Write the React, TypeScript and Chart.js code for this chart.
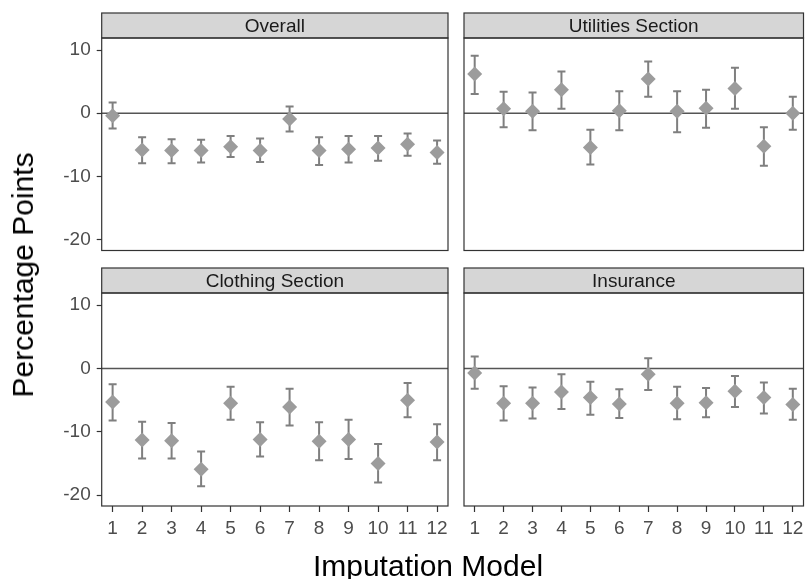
import React, { useEffect, useRef } from 'react';
import { Chart, registerables } from 'chart.js';

Chart.register(...registerables);

const models = [1, 2, 3, 4, 5, 6, 7, 8, 9, 10, 11, 12];
const yTicks = [-20, -10, 0, 10];

const overallEst = [-0.4, -5.8, -5.9, -5.9, -5.3, -5.9, -0.9, -5.9, -5.7, -5.5, -4.9, -6.2];
const overallLo = [-2.4, -7.9, -7.9, -7.8, -6.9, -7.7, -2.9, -8.2, -7.8, -7.5, -6.7, -8.0];
const overallHi = [1.7, -3.8, -4.1, -4.2, -3.6, -4.0, 1.05, -3.8, -3.6, -3.6, -3.2, -4.3];

const utilitiesEst = [6.2, 0.7, 0.3, 3.7, -5.4, 0.4, 5.4, 0.3, 0.8, 3.9, -5.2, 0.0];
const utilitiesLo = [3.05, -2.2, -2.7, 0.7, -8.1, -2.7, 2.6, -3.0, -2.3, 0.7, -8.3, -2.6];
const utilitiesHi = [9.1, 3.4, 3.3, 6.6, -2.6, 3.5, 8.2, 3.5, 3.7, 7.2, -2.2, 2.6];

const clothingEst = [-5.3, -11.3, -11.4, -15.9, -5.5, -11.2, -6.1, -11.5, -11.2, -15.0, -5.0, -11.6];
const clothingLo = [-8.2, -14.2, -14.2, -18.6, -8.1, -13.9, -9.0, -14.5, -14.3, -18.0, -7.7, -14.5];
const clothingHi = [-2.5, -8.4, -8.6, -13.1, -2.9, -8.5, -3.2, -8.5, -8.1, -11.9, -2.3, -8.8];

const insuranceEst = [-0.7, -5.5, -5.5, -3.7, -4.6, -5.6, -0.9, -5.5, -5.4, -3.6, -4.6, -5.7];
const insuranceLo = [-3.2, -8.2, -7.9, -6.4, -7.3, -7.8, -3.4, -8.0, -7.7, -6.1, -7.1, -8.1];
const insuranceHi = [1.9, -2.8, -3.0, -0.9, -2.1, -3.3, 1.6, -2.9, -3.1, -1.2, -2.2, -3.2];

const FONT = '"Liberation Sans", Arial, Helvetica, sans-serif';

type PanelProps = {
  title: string;
  est: number[];
  lo: number[];
  hi: number[];
  showX: boolean;
  showY: boolean;
  left: number;
  top: number;
  width: number;
  height: number;
  padding: { left: number; right: number; top: number; bottom: number };
  yAxisWidth: number;
  xAxisHeight: number;
};

function Panel(p: PanelProps) {
  const ref = useRef<HTMLCanvasElement | null>(null);
  useEffect(() => {
    if (!ref.current) return;
    const stripH = 25;
    const facetPlugin = {
      id: 'facet',
      beforeDatasetsDraw(chart: any) {
        const ctx = chart.ctx;
        const { left, right } = chart.chartArea;
        const ys = chart.scales.y;
        const xs = chart.scales.x;
        ctx.save();
        const y0 = ys.getPixelForValue(0);
        ctx.strokeStyle = '#555555';
        ctx.lineWidth = 1.5;
        ctx.beginPath();
        ctx.moveTo(left, y0);
        ctx.lineTo(right, y0);
        ctx.stroke();
        ctx.strokeStyle = '#7f7f7f';
        ctx.lineWidth = 2;
        const cap = 4;
        models.forEach((m, i) => {
          const x = xs.getPixelForValue(m);
          const yl = ys.getPixelForValue(p.lo[i]);
          const yh = ys.getPixelForValue(p.hi[i]);
          ctx.beginPath();
          ctx.moveTo(x, yl);
          ctx.lineTo(x, yh);
          ctx.moveTo(x - cap, yl);
          ctx.lineTo(x + cap, yl);
          ctx.moveTo(x - cap, yh);
          ctx.lineTo(x + cap, yh);
          ctx.stroke();
        });
        ctx.restore();
      },
      afterDraw(chart: any) {
        const ctx = chart.ctx;
        const { left, right, top, bottom } = chart.chartArea;
        ctx.save();
        ctx.fillStyle = '#d6d6d6';
        ctx.fillRect(left, top - stripH, right - left, stripH);
        ctx.strokeStyle = '#333333';
        ctx.lineWidth = 1.2;
        ctx.strokeRect(left, top - stripH, right - left, stripH);
        ctx.fillStyle = '#1a1a1a';
        ctx.font = '19px ' + FONT;
        ctx.textAlign = 'center';
        ctx.textBaseline = 'middle';
        ctx.fillText(p.title, (left + right) / 2, top - stripH / 2 + 1);
        ctx.strokeStyle = '#333333';
        ctx.lineWidth = 1.2;
        ctx.strokeRect(left, top, right - left, bottom - top);
        ctx.restore();
      },
    };

    const chart = new Chart(ref.current, {
      type: 'scatter',
      data: {
        datasets: [
          {
            data: models.map((m, i) => ({ x: m, y: p.est[i] })),
            pointStyle: 'rectRot',
            pointRadius: 7.5,
            pointHoverRadius: 7.5,
            backgroundColor: '#9c9c9c',
            borderColor: '#9c9c9c',
            borderWidth: 0,
          },
        ],
      },
      options: {
        animation: false,
        responsive: false,
        devicePixelRatio: 1,
        layout: { padding: p.padding },
        plugins: {
          legend: { display: false },
          tooltip: { enabled: false },
          title: { display: false },
        },
        scales: {
          x: {
            type: 'linear',
            min: 0.63,
            max: 12.37,
            display: p.showX,
            afterBuildTicks: (s: any) => {
              s.ticks = models.map((v) => ({ value: v }));
            },
            afterFit: (s: any) => {
              s.height = p.xAxisHeight;
              s.paddingLeft = 0;
              s.paddingRight = 0;
            },
            ticks: {
              autoSkip: false,
              maxRotation: 0,
              minRotation: 0,
              padding: 5,
              color: '#4d4d4d',
              font: { size: 19, family: FONT },
              callback: (v: any) => String(v),
            },
            grid: {
              drawOnChartArea: false,
              drawTicks: true,
              tickLength: 6,
              tickColor: '#333333',
              tickWidth: 1.2,
            },
            border: { display: false },
          },
          y: {
            type: 'linear',
            min: -21.7,
            max: 11.9,
            display: p.showY,
            afterBuildTicks: (s: any) => {
              s.ticks = yTicks.map((v) => ({ value: v }));
            },
            afterFit: (s: any) => {
              s.width = p.yAxisWidth;
              s.paddingTop = 0;
              s.paddingBottom = 0;
            },
            ticks: {
              padding: 6,
              color: '#4d4d4d',
              font: { size: 19, family: FONT },
              callback: (v: any) => String(v),
            },
            grid: {
              drawOnChartArea: false,
              drawTicks: true,
              tickLength: 5,
              tickColor: '#333333',
              tickWidth: 1.2,
            },
            border: { display: false },
          },
        },
      },
      plugins: [facetPlugin],
    } as any);
    return () => chart.destroy();
  }, []);
  return (
    <canvas
      ref={ref}
      width={p.width}
      height={p.height}
      style={{ position: 'absolute', left: p.left, top: p.top, width: p.width, height: p.height }}
    />
  );
}

export default function App() {
  return (
    <div
      style={{
        position: 'absolute',
        left: 0,
        top: 0,
        width: 811,
        height: 579,
        background: '#ffffff',
        overflow: 'hidden',
        fontFamily: FONT,
      }}
    >
      <Panel
        title="Overall"
        est={overallEst}
        lo={overallLo}
        hi={overallHi}
        showX={false}
        showY={true}
        left={0}
        top={0}
        width={456}
        height={258}
        padding={{ left: 0, right: 8, top: 38, bottom: 7 }}
        yAxisWidth={101.7}
        xAxisHeight={0}
      />
      <Panel
        title="Utilities Section"
        est={utilitiesEst}
        lo={utilitiesLo}
        hi={utilitiesHi}
        showX={false}
        showY={false}
        left={456}
        top={0}
        width={355}
        height={258}
        padding={{ left: 8, right: 2, top: 38, bottom: 7 }}
        yAxisWidth={0}
        xAxisHeight={0}
      />
      <Panel
        title="Clothing Section"
        est={clothingEst}
        lo={clothingLo}
        hi={clothingHi}
        showX={true}
        showY={true}
        left={0}
        top={258}
        width={456}
        height={321}
        padding={{ left: 0, right: 8, top: 35, bottom: 33 }}
        yAxisWidth={101.7}
        xAxisHeight={40}
      />
      <Panel
        title="Insurance"
        est={insuranceEst}
        lo={insuranceLo}
        hi={insuranceHi}
        showX={true}
        showY={false}
        left={456}
        top={258}
        width={355}
        height={321}
        padding={{ left: 8, right: 2, top: 35, bottom: 33 }}
        yAxisWidth={0}
        xAxisHeight={40}
      />
      <div
        style={{
          position: 'absolute',
          left: 23,
          top: 275,
          transform: 'translate(-50%, -50%) rotate(-90deg)',
          fontSize: 30,
          lineHeight: '30px',
          whiteSpace: 'nowrap',
          color: '#000000',
        }}
      >
        Percentage Points
      </div>
      <div
        style={{
          position: 'absolute',
          left: 428,
          top: 551,
          transform: 'translateX(-50%)',
          fontSize: 30,
          lineHeight: '30px',
          whiteSpace: 'nowrap',
          color: '#000000',
        }}
      >
        Imputation Model
      </div>
    </div>
  );
}
